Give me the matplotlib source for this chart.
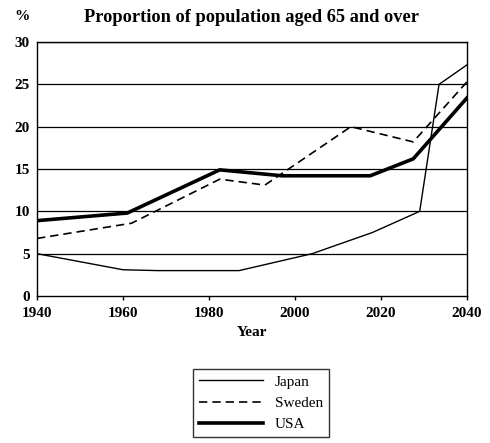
import matplotlib
matplotlib.use("Agg")
import matplotlib.pyplot as plt

years_japan = [1940, 1960, 1968, 1987, 2004, 2018, 2029, 2033.5, 2040]
japan = [5, 3.1, 3.0, 3.0, 5.0, 7.5, 10.0, 25.0, 27.3]
years_sweden = [1940, 1962, 1982.5, 1993, 2013, 2027.5, 2040]
sweden = [6.8, 8.6, 13.8, 13.1, 20.0, 18.2, 25.3]
years_usa = [1940, 1961, 1982.5, 1997, 2017.5, 2027.5, 2040]
usa = [8.9, 9.8, 14.9, 14.2, 14.2, 16.2, 23.4]
xticks = [1940, 1960, 1980, 2000, 2020, 2040]
yticks = [0, 5, 10, 15, 20, 25, 30]

plt.rcParams['font.family'] = ['Liberation Serif', 'DejaVu Serif']

fig = plt.figure(figsize=(4.9, 4.43), dpi=100)
ax = fig.add_axes([37/490, 1-296/443, 430/490, 254/443])

for y in yticks[1:]:
    ax.axhline(y, color='black', lw=0.9, zorder=1)

l1, = ax.plot(years_japan, japan, color='black', lw=1.0, label='Japan', zorder=3)
l2, = ax.plot(years_sweden, sweden, color='black', lw=1.2, ls=(0, (5, 3)), label='Sweden', zorder=3)
l3, = ax.plot(years_usa, usa, color='black', lw=2.6, label='USA', zorder=3)

ax.set_xlim(1940, 2040)
ax.set_ylim(0, 30)
ax.set_xticks(xticks)
ax.set_yticks(yticks)
ax.tick_params(axis='x', labelsize=11, length=3, width=1, direction='out', pad=5)
ax.tick_params(axis='y', labelsize=11, length=0, pad=5)
for lab in ax.get_xticklabels() + ax.get_yticklabels():
    lab.set_fontweight('bold')
for s in ax.spines.values():
    s.set_linewidth(1.0)

ax.set_xlabel('Year', fontsize=11, fontweight='bold', labelpad=4)
fig.text(252/490, 1-18/443, 'Proportion of population aged 65 and over', ha='center', va='center',
         fontsize=13.2, fontweight='bold')
fig.text(22/490, 1-17/443, '%', ha='center', va='center', fontsize=11, fontweight='bold')

leg = fig.legend(handles=[l1, l2, l3], loc='center', bbox_to_anchor=(261/490, 1-403/443),
                 frameon=True, fancybox=False, edgecolor='black', fontsize=11,
                 handlelength=4.2, handletextpad=0.8, labelspacing=0.5, borderpad=0.4)
leg.get_frame().set_linewidth(1.0)

fig.savefig('out.png', dpi=100)
